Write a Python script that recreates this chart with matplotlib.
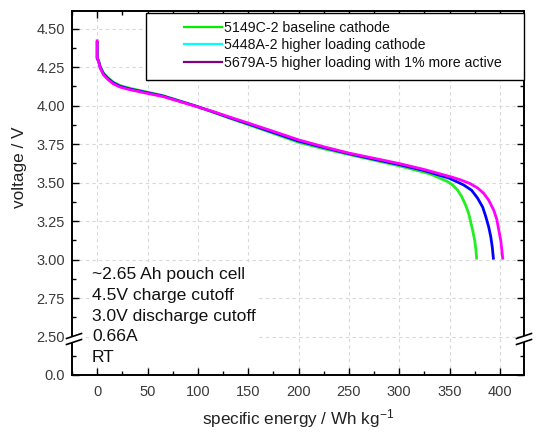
import numpy as np
import matplotlib
matplotlib.use("Agg")
import matplotlib.pyplot as plt
from matplotlib.lines import Line2D
from matplotlib.patches import Rectangle, Polygon
from matplotlib.ticker import FixedLocator, FixedFormatter

plt.rcParams['font.family'] = ['Liberation Sans', 'DejaVu Sans']
plt.rcParams['mathtext.fontset'] = 'custom'
plt.rcParams['mathtext.rm'] = 'Liberation Sans'
plt.rcParams['mathtext.it'] = 'Liberation Sans'

# ---- data ----
labels = ["5149C-2 baseline cathode",
          "5448A-2 higher loading cathode",
          "5679A-5 higher loading with 1% more active"]
legend_colors = ["#00ee00", "#00ffff", "#800080"]
curve_colors = ["#22ee22", "#0000ff", "#ff00ff"]

x_green = [0, 0, 1.3, 3, 6.3, 11, 16, 23, 33, 49, 65, 82, 99, 115, 132, 150, 175,
           200, 225, 250, 275, 300, 320, 331, 340, 348, 353, 358, 362, 366, 369,
           371, 373, 375, 376.3, 377]
y_green = [4.42, 4.31, 4.295, 4.255, 4.212, 4.18, 4.153, 4.13, 4.112, 4.089, 4.066,
           4.031, 3.995, 3.958, 3.918, 3.877, 3.82, 3.762, 3.72, 3.683, 3.646, 3.609,
           3.575, 3.556, 3.53, 3.507, 3.485, 3.452, 3.41, 3.354, 3.30, 3.246, 3.19,
           3.126, 3.06, 3.00]

x_blue = [0, 0, 1.3, 3, 6.3, 11, 16, 23, 33, 49, 65, 82, 99, 115, 132, 150, 175,
          200, 225, 250, 275, 300, 325, 350, 364, 372, 378, 383, 386, 389, 391,
          392.5, 393.7]
y_blue = [4.42, 4.305, 4.292, 4.25, 4.206, 4.174, 4.148, 4.125, 4.107, 4.085, 4.063,
          4.029, 3.995, 3.96, 3.921, 3.882, 3.826, 3.77, 3.728, 3.688, 3.652, 3.617,
          3.578, 3.528, 3.485, 3.45, 3.398, 3.34, 3.28, 3.21, 3.148, 3.08, 3.00]

x_mag = [0, 0, 1.3, 3, 6.3, 11, 16, 23, 33, 49, 65, 82, 99, 115, 132, 150, 175, 200,
         225, 250, 275, 300, 325, 350, 360, 370, 378, 384, 389, 394, 397, 399, 401,
         402, 403]
y_mag = [4.43, 4.31, 4.29, 4.244, 4.20, 4.168, 4.142, 4.12, 4.103, 4.081, 4.06,
         4.027, 3.994, 3.962, 3.925, 3.887, 3.833, 3.778, 3.733, 3.692, 3.658,
         3.624, 3.585, 3.54, 3.52, 3.495, 3.465, 3.43, 3.385, 3.32, 3.26, 3.19,
         3.12, 3.06, 3.00]

series_x = [x_green, x_blue, x_mag]
series_y = [y_green, y_blue, y_mag]

x_major = [0, 50, 100, 150, 200, 250, 300, 350, 400]
x_minor = [-25, 25, 75, 125, 175, 225, 275, 325, 375, 425]
y_major = [0.0, 2.50, 2.75, 3.00, 3.25, 3.50, 3.75, 4.00, 4.25, 4.50]
y_major_labels = ["0.0", "2.50", "2.75", "3.00", "3.25", "3.50", "3.75", "4.00", "4.25", "4.50"]
y_minor = [0.125, 2.625, 2.875, 3.125, 3.375, 3.625, 3.875, 4.125, 4.375]

note_lines = ["~2.65 Ah pouch cell", "4.5V charge cutoff", "3.0V discharge cutoff",
              "0.66A", "RT"]

# ---- broken-axis scale ----
LO, HI = 0.2, 2.48
K = 0.03 / (HI - LO)

def fwd(y):
    y = np.asarray(y, dtype=float)
    return np.where(y <= LO, y,
                    np.where(y < HI, LO + (y - LO) * K, y - 2.25))

def inv(d):
    d = np.asarray(d, dtype=float)
    return np.where(d <= LO, d,
                    np.where(d < 0.23, LO + (d - LO) / K, d + 2.25))

fig = plt.figure(figsize=(5.4, 4.33), dpi=100)
ax = fig.add_axes([72 / 540, 1 - 375 / 433, 452 / 540, 364 / 433])
ax.set_yscale('function', functions=(fwd, inv))

for xs, ys, c in zip(series_x, series_y, curve_colors):
    ax.plot(xs, ys, color=c, lw=2.0, zorder=3, solid_joinstyle='round',
            solid_capstyle='butt')

ax.set_xlim(-25, 424)
ax.set_ylim(0.0, 4.615)

ax.xaxis.set_major_locator(FixedLocator(x_major))
ax.xaxis.set_minor_locator(FixedLocator(x_minor))
ax.yaxis.set_major_locator(FixedLocator(y_major))
ax.yaxis.set_major_formatter(FixedFormatter(y_major_labels))
ax.yaxis.set_minor_locator(FixedLocator(y_minor))
ax.yaxis.set_minor_formatter(FixedFormatter([]))

ax.tick_params(which='both', direction='in', top=True, right=True, width=1.0,
               colors='black', labelcolor='#3a3a3a', labelsize=10.5)
ax.tick_params(which='major', length=5)
ax.tick_params(which='minor', length=3)
ax.tick_params(axis='x', pad=7)
ax.tick_params(axis='y', pad=5)

for s in ax.spines.values():
    s.set_linewidth(1.4)

ax.grid(True, which='major', ls=(0, (3, 3)), color='#d8d8d8', lw=0.8, zorder=0)
ax.set_axisbelow(True)

ax.set_xlabel('specific energy / Wh kg$^{\\mathregular{-1}}$', fontsize=12.3,
              color='#222222', labelpad=6)
ax.set_ylabel('voltage / V', fontsize=12.4, color='#222222')
ax.yaxis.set_label_coords(-0.10, 0.571)

# note text
ax.text(0.044, 0.162, "\n".join(note_lines), transform=ax.transAxes, fontsize=12.6,
        va='center', ha='left', linespacing=1.49, color='#111111', zorder=4,
        bbox=dict(facecolor='white', edgecolor='none', pad=1))

# legend
fig.patches.append(Rectangle((146 / 540, 1 - 80 / 433), 378 / 540, 67 / 433,
                             transform=fig.transFigure, facecolor='white',
                             edgecolor='black', lw=1.0, zorder=5))
handles = [Line2D([], [], color=c, lw=1.6) for c in legend_colors]
leg = fig.legend(handles, labels, loc='upper left',
                 bbox_to_anchor=(184 / 540, 1 - 21 / 433), frameon=False,
                 fontsize=10.2, handlelength=2.7, handletextpad=0.12,
                 labelspacing=0.24, borderpad=0, borderaxespad=0)
leg.set_zorder(6)
for t in leg.get_texts():
    t.set_color('#111111')

# break marks on left and right spines
def break_mark(xpix):
    yc = 339
    w, rise, sep = 15, 5, 6
    x0, x1 = xpix - w / 2, xpix + w / 2
    def tf(px, py):
        return (px / 540, 1 - py / 433)
    poly = Polygon([tf(x0, yc - sep / 2 + rise / 2), tf(x1, yc - sep / 2 - rise / 2),
                    tf(x1, yc + sep / 2 - rise / 2), tf(x0, yc + sep / 2 + rise / 2)],
                   closed=True, transform=fig.transFigure, facecolor='white',
                   edgecolor='none', zorder=7)
    fig.patches.append(poly)
    for off in (-sep / 2, sep / 2):
        fig.lines.append(Line2D([x0 / 540, x1 / 540],
                                [1 - (yc + off + rise / 2) / 433,
                                 1 - (yc + off - rise / 2) / 433],
                                transform=fig.transFigure, color='black', lw=1.2,
                                zorder=8))

break_mark(74)
break_mark(524)

fig.savefig('out.png', dpi=100)
